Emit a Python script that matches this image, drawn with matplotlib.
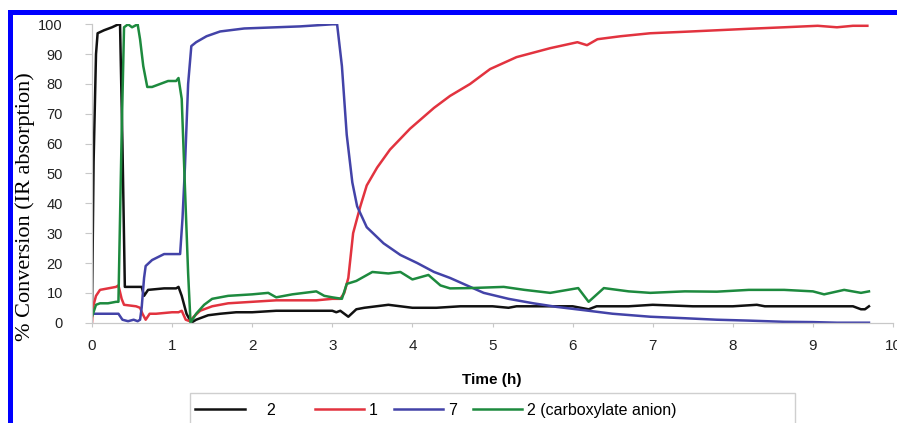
import matplotlib
matplotlib.use("Agg")
import matplotlib.pyplot as plt
from matplotlib.patches import Rectangle

# ---- data (time in h, % conversion) ----
t_2 = [0, 0.02, 0.05, 0.07, 0.15, 0.25, 0.33, 0.35, 0.38, 0.41, 0.5, 0.62, 0.65, 0.7,
       0.9, 1.05, 1.08, 1.12, 1.18, 1.24, 1.3, 1.45, 1.6, 1.8, 2.0, 2.3, 2.5, 2.8, 3.0,
       3.05, 3.1, 3.2, 3.3, 3.4, 3.55, 3.7, 3.85, 4.0, 4.3, 4.6, 5.0, 5.2, 5.3, 5.6, 6.0,
       6.2, 6.3, 6.7, 7.0, 7.5, 8.0, 8.3, 8.4, 9.0, 9.5, 9.6, 9.65, 9.7]
y_2 = [4, 54, 90, 97, 98, 99, 100, 100, 60, 12, 12, 12, 9, 11,
       11.5, 11.5, 12, 9, 3, 0, 1, 2.5, 3, 3.5, 3.5, 4, 4, 4, 4,
       3.5, 4, 2, 4.5, 5, 5.5, 6, 5.5, 5, 5, 5.5, 5.5, 5, 5.5, 5.5, 5.5,
       4.5, 5.5, 5.5, 6, 5.5, 5.5, 6, 5.5, 5.5, 5.5, 4.5, 4.5, 5.5]

t_1 = [0, 0.01, 0.05, 0.1, 0.2, 0.3, 0.33, 0.37, 0.4, 0.55, 0.6, 0.63, 0.67, 0.72, 0.8,
       1.0, 1.08, 1.12, 1.17, 1.22, 1.27, 1.35, 1.5, 1.7, 2.0, 2.3, 2.6, 2.8, 3.0, 3.1,
       3.15, 3.2, 3.26, 3.35, 3.43, 3.56, 3.72, 3.97, 4.27, 4.47, 4.72, 4.97, 5.3, 5.72,
       6.06, 6.18, 6.31, 6.6, 6.97, 7.4, 7.8, 8.2, 8.64, 9.06, 9.3, 9.5, 9.68]
y_1 = [0, 5, 9, 11, 11.5, 12, 12.5, 8, 6, 5.5, 5, 3, 1, 3, 3,
       3.5, 3.5, 4, 1, 0.5, 2, 4, 5.5, 6.5, 7, 7.5, 7.5, 7.5, 8, 8,
       10, 15, 30, 39, 46, 52, 58, 65, 72, 76, 80, 85, 89, 92,
       94, 93, 95, 96, 97, 97.5, 98, 98.5, 99, 99.5, 99, 99.5, 99.5]

t_7 = [0, 0.02, 0.33, 0.38, 0.45, 0.52, 0.57, 0.6, 0.62, 0.65, 0.67, 0.75, 0.9, 1.1,
       1.13, 1.16, 1.2, 1.24, 1.3, 1.43, 1.6, 1.9, 2.3, 2.6, 3.0, 3.06, 3.12, 3.18, 3.25,
       3.31, 3.43, 3.64, 3.85, 4.06, 4.27, 4.47, 4.89, 5.2, 5.51, 5.8, 6.14, 6.5, 6.97,
       7.4, 7.8, 8.2, 8.64, 9.0, 9.3, 9.7]
y_7 = [3, 3, 3, 1, 0.5, 1, 0.5, 1, 5, 15, 19, 21, 23, 23,
       35, 52, 80, 92.7, 94, 96, 97.6, 98.6, 99, 99.3, 100, 100, 86, 63, 47,
       39, 32, 26.6, 22.7, 20, 17, 15, 10, 8, 6.5, 5.3, 4.2, 3, 2,
       1.5, 1, 0.7, 0.3, 0.2, 0, 0]

t_2c = [0, 0.05, 0.1, 0.2, 0.3, 0.33, 0.37, 0.4, 0.45, 0.5, 0.57, 0.6, 0.64, 0.69, 0.75,
        0.85, 0.95, 1.05, 1.08, 1.12, 1.16, 1.2, 1.23, 1.3, 1.4, 1.5, 1.7, 2.0, 2.2, 2.3,
        2.5, 2.8, 2.9, 3.0, 3.12, 3.18, 3.3, 3.5, 3.7, 3.85, 4.0, 4.2, 4.35, 4.47, 4.72,
        5.14, 5.4, 5.72, 6.07, 6.2, 6.39, 6.7, 6.97, 7.4, 7.8, 8.2, 8.64, 9.0, 9.14, 9.39,
        9.6, 9.7]
y_2c = [2, 6, 6.5, 6.5, 7, 7, 63, 99, 100, 99, 100, 95, 86, 79, 79,
        80, 81, 81, 82, 75, 45.6, 16.6, 0, 3, 6, 8, 9, 9.5, 10, 8.5,
        9.5, 10.5, 9, 8.5, 8, 13, 14, 17, 16.5, 17, 14.5, 16, 12.5, 11.5, 11.6,
        12, 11, 10, 11.6, 7, 11.6, 10.5, 10, 10.5, 10.4, 11, 11, 10.5, 9.5, 11,
        10, 10.5]

x_ticks = list(range(0, 11))
y_ticks = list(range(0, 101, 10))

plt.rcParams['font.family'] = ['Liberation Sans', 'DejaVu Sans']

fig = plt.figure(figsize=(8.97, 4.23), dpi=100)
W, H = 897, 423
ax = fig.add_axes([92 / W, (H - 322.7) / H, 801 / W, (322.7 - 24.3) / H])

ax.plot(t_2, y_2, color='#111111', lw=1.8, label='    2     ')
ax.plot(t_1, y_1, color='#e2333f', lw=1.8, label='1')
ax.plot(t_7, y_7, color='#4343a8', lw=1.8, label='7')
ax.plot(t_2c, y_2c, color='#1d8a3e', lw=1.8, label='2 (carboxylate anion)')

ax.set_xlim(0, 10)
ax.set_ylim(0, 100)
ax.set_xticks(x_ticks)
ax.set_yticks(y_ticks)
ax.tick_params(axis='y', direction='out', length=5, color='#c8c8c8', pad=16,
               labelsize=10.5, labelcolor='#222222')
ax.tick_params(axis='x', direction='out', length=3, color='#c8c8c8', pad=9,
               labelsize=11, labelcolor='#222222')
for s in ['top', 'right']:
    ax.spines[s].set_visible(False)
for s in ['left', 'bottom']:
    ax.spines[s].set_color('#c8c8c8')
    ax.spines[s].set_linewidth(0.9)
ax.patch.set_visible(False)

fig.text(25 / W, (H - 207) / H, '% Conversion (IR absorption)', rotation=90,
         ha='center', va='center', fontsize=16, family=['Liberation Serif'])
fig.text(492 / W, (H - 380) / H, 'Time (h)', ha='center', va='center',
         fontsize=11, fontweight='bold')

# legend box (frame drawn separately, runs off the bottom edge)
fig.add_artist(Rectangle((190 / W, -0.05), 605 / W, (H - 393) / H + 0.05,
                         transform=fig.transFigure, fill=False,
                         edgecolor='#cfcfcf', lw=1))
fig.legend(loc='center left', bbox_to_anchor=(195 / W, (H - 410) / H), ncol=4,
           frameon=False, fontsize=11.5, handlelength=3.1, handletextpad=0.3,
           columnspacing=1.0, borderpad=0, borderaxespad=0)

# blue border on top and left
fig.add_artist(Rectangle((8 / W, 0), 5 / W, (H - 10) / H, transform=fig.transFigure,
                         color='#0000ff', lw=0))
fig.add_artist(Rectangle((8 / W, (H - 15) / H), (W - 8) / W, 5 / H,
                         transform=fig.transFigure, color='#0000ff', lw=0))

fig.savefig('out.png', dpi=100)
